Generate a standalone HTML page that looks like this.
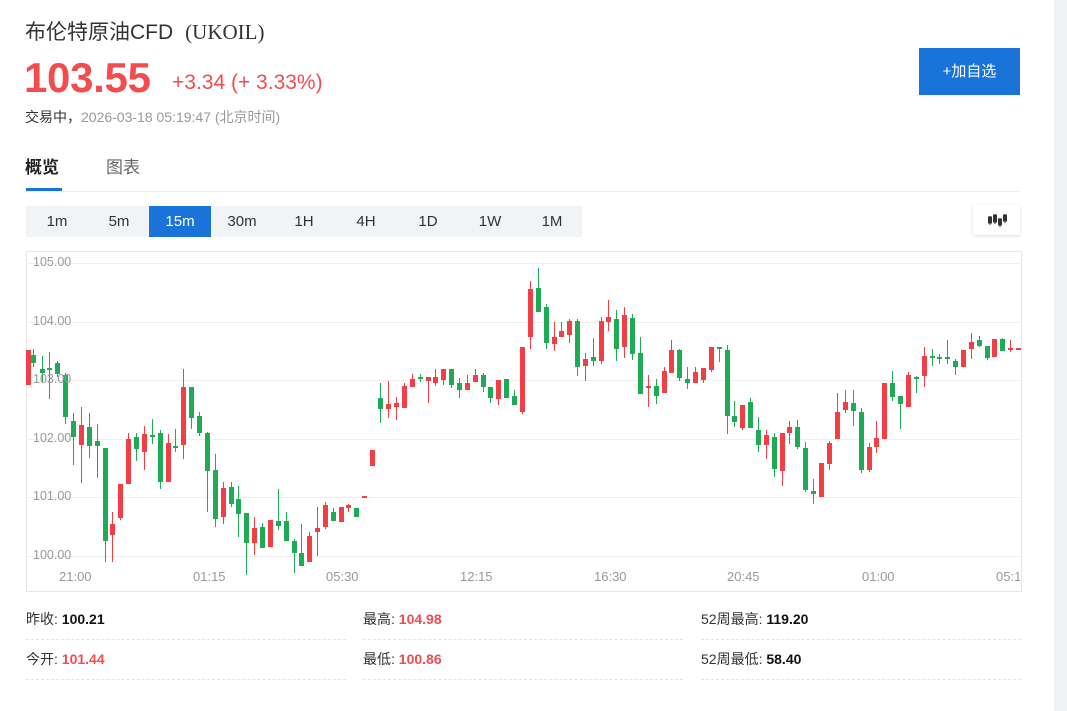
<!DOCTYPE html>
<html><head><meta charset="utf-8">
<style>
*{margin:0;padding:0;box-sizing:border-box}
body{width:1067px;height:711px;background:#fff;position:relative;overflow:hidden;font-family:"Liberation Sans","Noto Sans CJK SC",sans-serif;color:#333}
.a{position:absolute;white-space:nowrap}
.red{color:#f24c4f}
.per{position:absolute;top:206px;height:31px;width:62px;text-align:center;line-height:31px;font-size:15px;color:#333}
.lbl{position:absolute;font-size:12.5px;color:#999}
.st{position:absolute;font-size:14px;color:#333}
.st b{font-weight:bold;color:#111}
.st b.red{color:#f24c4f}
.dl{position:absolute;height:0;border-top:1px dashed #e3e3e3;width:320px}
</style></head><body>
<div style="position:absolute;left:1054px;top:0;width:13px;height:711px;background:#f1f2f5"></div>
<div class="a" style="left:25px;top:16px;font-size:21px;color:#333">布伦特原油CFD<span style="margin-left:12px;font-family:'Liberation Serif','Noto Serif CJK SC',serif">(UKOIL)</span></div>
<div class="a red" style="left:24px;top:54px;font-size:42px;font-weight:bold;letter-spacing:-0.3px">103.55</div>
<div class="a red" style="left:172px;top:71px;font-size:21px">+3.34 (+ 3.33%)</div>
<div class="a" style="left:25px;top:107px;font-size:14px;color:#333">交易中，<span style="color:#999">2026-03-18 05:19:47 (北京时间)</span></div>
<div class="a" style="left:919px;top:48px;width:101px;height:47px;background:#1a73d8;color:#fff;font-size:15px;text-align:center;line-height:47px">+加自选</div>
<div class="a" style="left:25px;top:153px;font-size:17px;font-weight:bold;color:#222">概览</div>
<div class="a" style="left:106px;top:153px;font-size:17px;color:#666">图表</div>
<div class="a" style="left:26px;top:188px;width:36px;height:3px;background:#1a73d8"></div>
<div class="a" style="left:26px;top:191px;width:994px;height:1px;background:#eee"></div>
<div class="a" style="left:26px;top:206px;width:556px;height:31px;background:#f2f3f5"></div>
<div class="a" style="left:149px;top:206px;width:62px;height:31px;background:#1a73d8"></div>
<div class="per" style="left:26px">1m</div><div class="per" style="left:88px">5m</div><div class="per" style="left:149px;color:#fff">15m</div><div class="per" style="left:211px">30m</div><div class="per" style="left:273px">1H</div><div class="per" style="left:335px">4H</div><div class="per" style="left:397px">1D</div><div class="per" style="left:459px">1W</div><div class="per" style="left:521px">1M</div>
<div class="a" style="left:973px;top:205px;width:47px;height:30px;background:#fff;box-shadow:0 1px 3px rgba(0,0,0,.15);border-radius:2px">
<svg width="47" height="30"><g fill="#333" stroke="#333" stroke-width="1"><line x1="17" y1="11" x2="17" y2="20"/><rect x="15.5" y="12" width="3" height="6"/><line x1="22" y1="9" x2="22" y2="19"/><rect x="20.5" y="10" width="3" height="7"/><line x1="27" y1="13" x2="27" y2="22"/><rect x="25.5" y="14" width="3" height="6"/><line x1="32" y1="9" x2="32" y2="18"/><rect x="30.5" y="10" width="3" height="6"/></g></svg></div>
<div class="a" style="left:26px;top:251px;width:996px;height:341px;border:1px solid #e8e8e8"></div>
<svg class="a" id="ch" style="left:0;top:0" width="1067" height="711"></svg>
<div class="lbl" style="left:33px;top:255px">105.00</div>
<div class="lbl" style="left:33px;top:314px">104.00</div>
<div class="lbl" style="left:33px;top:372px">103.00</div>
<div class="lbl" style="left:33px;top:431px">102.00</div>
<div class="lbl" style="left:33px;top:489px">101.00</div>
<div class="lbl" style="left:33px;top:548px">100.00</div>
<div class="lbl" style="left:59px;top:569px;font-size:13px">21:00</div>
<div class="lbl" style="left:193px;top:569px;font-size:13px">01:15</div>
<div class="lbl" style="left:326px;top:569px;font-size:13px">05:30</div>
<div class="lbl" style="left:460px;top:569px;font-size:13px">12:15</div>
<div class="lbl" style="left:594px;top:569px;font-size:13px">16:30</div>
<div class="lbl" style="left:727px;top:569px;font-size:13px">20:45</div>
<div class="lbl" style="left:862px;top:569px;font-size:13px">01:00</div>
<div class="lbl" style="left:996px;top:569px;font-size:13px;width:24px;overflow:hidden">05:15</div>
<div class="st" style="left:26px;top:609px">昨收: <b>100.21</b></div>
<div class="st" style="left:363px;top:609px">最高: <b class="red">104.98</b></div>
<div class="st" style="left:701px;top:609px">52周最高: <b>119.20</b></div>
<div class="st" style="left:26px;top:649px">今开: <b class="red">101.44</b></div>
<div class="st" style="left:363px;top:649px">最低: <b class="red">100.86</b></div>
<div class="st" style="left:701px;top:649px">52周最低: <b>58.40</b></div>
<div class="dl" style="left:26px;top:639px"></div><div class="dl" style="left:363px;top:639px"></div><div class="dl" style="left:701px;top:639px"></div>
<div class="dl" style="left:26px;top:679px"></div><div class="dl" style="left:363px;top:679px"></div><div class="dl" style="left:701px;top:679px"></div>
<script>
var D=[[28,350,385,350,385,'r'],[33,355,363,349,367,'g'],[42,369,373,356,382,'g'],[49,368,370,352,399,'g'],[57,363,374,361,377,'g'],[65,375,417,373,424,'g'],[73,421,437,413,465,'g'],[81,425,445,407,483,'r'],[89,427,446,413,458,'g'],[97,441,446,424,478,'g'],[105,448,541,448,562,'g'],[112,524,535,512,562,'r'],[120,484,518,484,520,'r'],[128,439,484,433,484,'r'],[136,437,449,433,461,'g'],[144,434,452,426,470,'r'],[152,435,437,419,444,'g'],[160,433,482,430,489,'g'],[168,443,482,434,482,'r'],[175,446,448,429,452,'g'],[183,387,445,369,459,'r'],[191,387,418,387,429,'g'],[199,416,433,412,436,'g'],[207,433,471,432,512,'g'],[215,470,519,454,527,'g'],[223,488,517,482,524,'r'],[231,487,504,482,507,'g'],[238,499,514,486,537,'g'],[246,513,543,513,575,'g'],[254,528,543,517,555,'r'],[262,527,548,523,548,'g'],[270,520,547,520,547,'r'],[278,521,526,489,530,'g'],[286,521,541,512,541,'g'],[294,541,553,539,573,'g'],[301,553,566,524,566,'g'],[309,536,562,532,562,'r'],[317,528,532,507,556,'r'],[325,505,527,502,529,'r'],[333,512,521,508,521,'g'],[341,507,522,507,522,'r'],[348,505,508,504,512,'r'],[356,508,517,508,517,'g'],[364,496,498,496,498,'r'],[372,450,466,450,466,'r'],[380,398,409,383,423,'g'],[388,404,409,381,418,'r'],[396,403,407,397,420,'r'],[404,386,408,383,408,'r'],[412,379,387,374,387,'r'],[420,377,379,374,382,'g'],[428,377,381,377,403,'r'],[435,377,383,369,386,'r'],[443,369,380,369,385,'r'],[451,369,385,369,388,'g'],[459,383,390,378,398,'g'],[467,383,390,375,390,'r'],[475,375,382,369,382,'r'],[483,375,387,373,392,'g'],[490,387,398,387,403,'g'],[498,380,399,380,405,'r'],[506,379,398,379,398,'g'],[514,396,405,390,405,'g'],[522,347,412,347,414,'r'],[530,289,337,281,349,'r'],[538,288,312,268,312,'g'],[546,307,343,304,349,'g'],[554,337,344,322,351,'r'],[561,331,337,322,337,'r'],[569,321,335,319,343,'r'],[577,321,367,319,376,'g'],[585,359,366,353,381,'r'],[593,357,361,338,366,'g'],[601,321,361,317,364,'r'],[608,317,322,300,331,'r'],[616,319,349,310,361,'g'],[624,315,347,307,358,'r'],[632,318,354,314,360,'g'],[640,353,394,337,394,'g'],[648,386,388,375,407,'r'],[656,386,396,379,404,'g'],[664,371,393,367,393,'r'],[671,350,373,340,373,'r'],[679,350,378,349,381,'g'],[687,379,383,367,389,'g'],[695,372,383,367,383,'r'],[703,368,380,368,383,'r'],[711,347,370,347,372,'r'],[719,347,349,347,362,'g'],[727,350,416,345,434,'g'],[734,416,422,401,427,'g'],[742,405,428,405,430,'r'],[750,402,428,398,428,'g'],[758,430,445,417,452,'g'],[766,435,445,430,459,'r'],[774,437,469,433,477,'g'],[782,433,471,433,486,'r'],[789,427,433,421,444,'r'],[797,427,447,420,449,'g'],[805,448,490,442,492,'g'],[813,491,494,479,504,'g'],[821,463,497,463,497,'r'],[829,443,464,441,470,'r'],[837,412,439,393,439,'r'],[845,402,410,390,413,'r'],[853,403,411,390,426,'g'],[861,412,470,408,473,'g'],[869,447,470,443,472,'r'],[876,438,447,421,453,'r'],[884,383,439,383,439,'r'],[892,383,397,371,401,'g'],[900,396,404,396,429,'g'],[908,375,407,372,407,'r'],[916,377,379,376,393,'g'],[924,356,376,347,387,'r'],[932,356,358,349,366,'g'],[939,357,359,354,364,'g'],[947,357,359,340,364,'g'],[955,361,367,359,375,'g'],[963,350,367,350,367,'r'],[971,342,349,333,359,'r'],[979,340,346,336,347,'g'],[987,346,358,346,360,'g'],[994,339,357,339,357,'r'],[1002,339,351,338,351,'g'],[1010,348,350,340,352,'r'],[1018,348,350,348,350,'r']];
var s='';[263,322,380,439,497,556].forEach(function(y){s+='<line x1="27" x2="1021" y1="'+y+'.5" y2="'+y+'.5" stroke="#efefef"/>'});
D.forEach(function(d){var c=d[5]=='r'?'#f23e45':'#1fab55';var h=Math.max(2,d[2]-d[1]);
s+='<line x1="'+(d[0]+.5)+'" x2="'+(d[0]+.5)+'" y1="'+d[3]+'" y2="'+d[4]+'" stroke="'+c+'"/>';
s+='<rect x="'+(d[0]-2)+'" y="'+d[1]+'" width="5" height="'+h+'" fill="'+c+'"/>';});
document.getElementById('ch').innerHTML=s;
</script>
</body></html>
